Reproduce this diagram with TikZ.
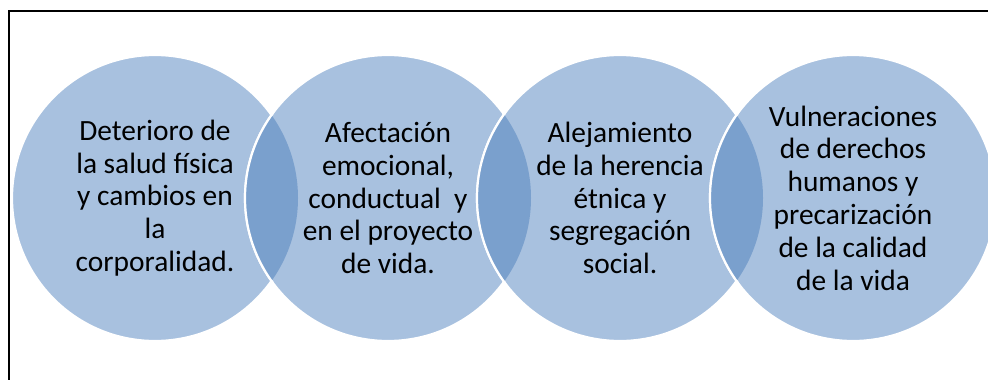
\documentclass[tikz,border=0pt]{standalone}
\usepackage{fontspec}
\setmainfont{Carlito}
\definecolor{circfill}{HTML}{A8C1DF}
\definecolor{lensfill}{HTML}{7AA0CD}
\begin{document}
\begin{tikzpicture}[x=1pt,y=-1pt,
  circ/.style={fill=circfill,draw=white,line width=2.2pt},
  rim/.style={draw=white,line width=2.2pt},
  lbl/.style={align=center,text=black,font=\fontsize{29.4}{32.8}\selectfont,inner sep=0pt}]
\useasboundingbox (0,0) rectangle (988,380);
\draw[line width=1.6pt,line cap=rect] (9,381) -- (9,11) -- (989,11);
\coordinate (c1) at (155,198);
\coordinate (c2) at (388,198);
\coordinate (c3) at (620,198);
\coordinate (c4) at (853,198);
\foreach \c in {c1,c2,c3,c4}{\path[circ] (\c) circle[radius=143];}
\foreach \a/\b in {c1/c2,c2/c3,c3/c4}{
  \begin{scope}
    \clip (\a) circle[radius=143];
    \fill[lensfill] (\b) circle[radius=143];
  \end{scope}
  \begin{scope}
    \clip (\a) circle[radius=145];
    \path[rim] (\b) circle[radius=143];
  \end{scope}
}
\node[lbl] (t1) at (155,198) {Deterioro de\\la salud física\\y cambios en\\la\\corporalidad.};
\node[lbl] (t2) at (388,198) {Afectación\\emocional,\\conductual\ \ y\\en el proyecto\\de vida.};
\node[lbl] (t3) at (620,198) {Alejamiento\\de la herencia\\étnica y\\segregación\\social.};
\node[lbl] (t4) at (853,198) {Vulneraciones\\de derechos\\humanos y\\precarización\\de la calidad\\de la vida};
\end{tikzpicture}
\end{document}
